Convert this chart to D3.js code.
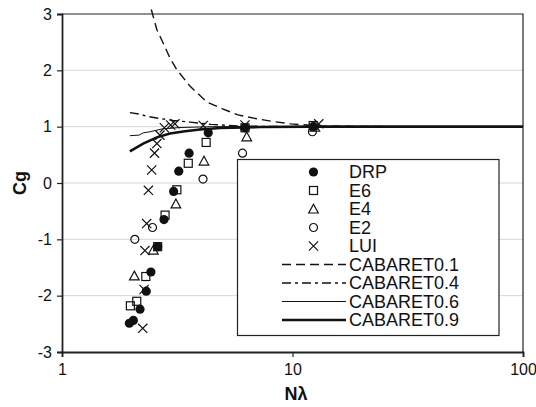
<!DOCTYPE html>
<html>
<head>
<meta charset="utf-8">
<script src="https://cdn.jsdelivr.net/npm/d3@7"></script>
<style>
  html, body { margin: 0; padding: 0; background: #fff; }
  svg { display: block; }
  text { font-family: "Liberation Sans", Arial, sans-serif; fill: #111; }
</style>
</head>
<body>
<svg id="chart" width="536" height="407"></svg>
<script>
// Group velocity ratio Cg versus points per wavelength N (log axis)
const xTicks = [1, 10, 100];
const xTickLabels = ["1", "10", "100"];
const yTicks = [-3, -2, -1, 0, 1, 2, 3];
const yTickLabels = ["-3", "-2", "-1", "0", "1", "2", "3"];

// Scheme results: [N, Cg]
const drp = [[1.96, -2.49], [2.04, -2.44], [2.18, -2.24], [2.32, -1.92], [2.43, -1.58],
             [2.60, -1.13], [2.77, -0.65], [3.05, -0.15], [3.21, 0.21], [3.56, 0.53],
             [4.31, 0.89], [6.22, 0.98], [12.3, 1.0]];
const e6 = [[1.98, -2.18], [2.11, -2.10], [2.31, -1.66], [2.60, -1.13], [2.80, -0.57],
            [3.15, -0.12], [3.53, 0.35], [4.22, 0.72], [6.22, 0.98], [12.3, 1.02]];
const e4 = [[2.06, -1.65], [2.49, -1.19], [3.12, -0.37], [4.13, 0.39], [6.33, 0.82], [12.5, 0.99]];
const e2 = [[2.07, -1.0], [2.47, -0.79], [4.09, 0.07], [6.07, 0.53], [12.2, 0.91]];
const lui = [[2.24, -2.58], [2.27, -1.89], [2.29, -1.20], [2.33, -0.72], [2.37, -0.13],
             [2.45, 0.23], [2.52, 0.53], [2.58, 0.70], [2.66, 0.85], [2.78, 0.98],
             [2.96, 1.03], [3.09, 1.05], [4.10, 1.02], [6.22, 1.03], [13.0, 1.05]];

// CABARET curves for different Courant numbers: [N, Cg]
const cab01 = [[2.44, 3.08], [2.58, 2.72], [2.75, 2.48], [2.94, 2.22], [3.15, 2.01],
               [3.59, 1.72], [4.24, 1.44], [4.94, 1.32], [5.80, 1.21], [6.99, 1.14],
               [8.26, 1.09], [9.85, 1.05], [13.2, 1.01], [29.3, 1.0], [100, 1.0]];
const cab04 = [[1.97, 1.25], [2.18, 1.22], [2.36, 1.18], [2.61, 1.15], [3.03, 1.11],
               [3.59, 1.08], [4.43, 1.04], [5.92, 1.01], [9.75, 1.0], [100, 1.0]];
const cab06 = [[1.97, 0.84], [2.16, 0.85], [2.25, 0.89], [2.41, 0.91], [2.72, 0.96],
               [3.25, 0.985], [4.5, 1.0], [100, 1.0]];
const cab09 = [[1.97, 0.56], [2.25, 0.70], [2.58, 0.81], [2.94, 0.88], [3.42, 0.92],
               [3.97, 0.95], [4.85, 0.976], [7.23, 0.994], [12, 1.0], [100, 1.0]];

const markerSeries = [
  { name: "DRP", data: drp, shape: "dot" },
  { name: "E6", data: e6, shape: "square" },
  { name: "E4", data: e4, shape: "triangle" },
  { name: "E2", data: e2, shape: "circle" },
  { name: "LUI", data: lui, shape: "x" }
];
const lineSeries = [
  { name: "CABARET0.1", data: cab01, dash: "9,5", width: 1.4 },
  { name: "CABARET0.4", data: cab04, dash: "9,4,3,4", width: 1.4 },
  { name: "CABARET0.6", data: cab06, dash: null, width: 1 },
  { name: "CABARET0.9", data: cab09, dash: null, width: 2.6 }
];

const svg = d3.select("#chart");
const x = d3.scaleLog().domain([1, 100]).range([62, 523]);
const y = d3.scaleLinear().domain([-3, 3]).range([352, 14]);

// horizontal gridlines
svg.append("g").selectAll("line")
  .data(yTicks.filter(v => v > -3 && v < 3))
  .join("line")
  .attr("x1", x(1)).attr("x2", x(100))
  .attr("y1", d => y(d)).attr("y2", d => y(d))
  .attr("stroke", "#d6d6d6").attr("stroke-width", 1);

// plot frame (top and right)
svg.append("path")
  .attr("d", `M${x(1)},${y(3)}H${x(100)}V${y(-3)}`)
  .attr("fill", "none").attr("stroke", "#222").attr("stroke-width", 1.2);

// axes
const yAxis = d3.axisLeft(y).tickValues(yTicks)
  .tickFormat((d, i) => yTickLabels[i]).tickSize(5).tickPadding(5);
const xAxis = d3.axisBottom(x).tickValues(xTicks)
  .tickFormat((d, i) => xTickLabels[i]).tickSize(5).tickPadding(7);

const gy = svg.append("g").attr("transform", `translate(${x(1)},0)`).call(yAxis);
const gx = svg.append("g").attr("transform", `translate(0,${y(-3)})`).call(xAxis);
[gx, gy].forEach(g => {
  g.select(".domain").attr("stroke", "#222").attr("stroke-width", 1.8);
  g.selectAll(".tick line").attr("stroke", "#222").attr("stroke-width", 1.2);
  g.selectAll(".tick text").attr("font-size", 16)
    .attr("font-family", "'Liberation Sans', Arial, sans-serif").attr("fill", "#111");
});

// axis titles
svg.append("text")
  .attr("transform", `translate(26,${y(0)}) rotate(-90)`)
  .attr("text-anchor", "middle").attr("font-size", 18).attr("font-weight", "bold")
  .text("Cg");
svg.append("text")
  .attr("x", 296).attr("y", 400)
  .attr("text-anchor", "middle").attr("font-size", 18).attr("font-weight", "bold")
  .text("Nλ");

// CABARET curves
const line = d3.line().x(d => x(d[0])).y(d => y(d[1]));
svg.append("g").selectAll("path")
  .data(lineSeries)
  .join("path")
  .attr("d", d => line(d.data))
  .attr("fill", "none").attr("stroke", "#111")
  .attr("stroke-width", d => d.width)
  .attr("stroke-dasharray", d => d.dash);

// marker drawing
function drawMarker(g, shape) {
  if (shape === "dot") {
    g.append("circle").attr("r", 4.6).attr("fill", "#111");
  } else if (shape === "circle") {
    g.append("circle").attr("r", 4).attr("fill", "none").attr("stroke", "#111").attr("stroke-width", 1.2);
  } else if (shape === "square") {
    g.append("rect").attr("x", -4).attr("y", -4).attr("width", 8).attr("height", 8)
      .attr("fill", "none").attr("stroke", "#111").attr("stroke-width", 1.2);
  } else if (shape === "triangle") {
    g.append("path").attr("d", "M0,-4.8L4.8,4L-4.8,4Z")
      .attr("fill", "none").attr("stroke", "#111").attr("stroke-width", 1.2);
  } else if (shape === "x") {
    g.append("path").attr("d", "M-4.6,-4.6L4.6,4.6M-4.6,4.6L4.6,-4.6")
      .attr("fill", "none").attr("stroke", "#111").attr("stroke-width", 1.2);
  }
}

markerSeries.forEach(s => {
  const gs = svg.append("g");
  s.data.forEach(p => {
    const g = gs.append("g").attr("transform", `translate(${x(p[0])},${y(p[1])})`);
    drawMarker(g, s.shape);
  });
});

// legend
const legend = svg.append("g");
legend.append("rect")
  .attr("x", 237.5).attr("y", 159.5).attr("width", 261.5).attr("height", 176)
  .attr("fill", "#fff").attr("stroke", "#222").attr("stroke-width", 1.2);
const rowY = i => 172 + i * 18.5;
markerSeries.forEach((s, i) => {
  const g = legend.append("g").attr("transform", `translate(313.5,${rowY(i)})`);
  drawMarker(g, s.shape);
  legend.append("text").attr("x", 349).attr("y", rowY(i)).attr("dy", "0.36em")
    .attr("font-size", 18).text(s.name);
});
lineSeries.forEach((s, j) => {
  const i = j + markerSeries.length;
  legend.append("line")
    .attr("x1", 282).attr("x2", 346).attr("y1", rowY(i)).attr("y2", rowY(i))
    .attr("stroke", "#111").attr("stroke-width", s.width)
    .attr("stroke-dasharray", s.dash);
  legend.append("text").attr("x", 349).attr("y", rowY(i)).attr("dy", "0.36em")
    .attr("font-size", 18).text(s.name);
});
</script>
</body>
</html>
